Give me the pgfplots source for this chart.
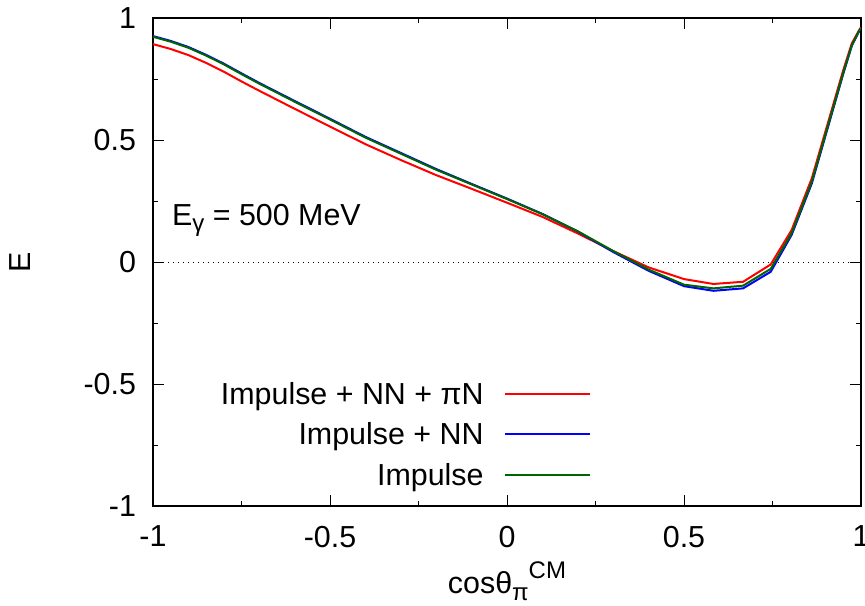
\documentclass[border=0pt]{standalone}
\usepackage{pgfplots}
\pgfplotsset{compat=1.18}
\usepackage{pgfplotstable}
\usepackage{fontspec}
\setmainfont{Liberation Sans}
\definecolor{dkgreen}{RGB}{0,100,0}
\newcommand{\sub}[1]{\raisebox{-3.5pt}{\fontsize{12}{14}\selectfont #1}}
\newcommand{\sups}[1]{\raisebox{7.5pt}{\fontsize{12}{14}\selectfont #1}}

\pgfplotstableread{
x y
-1.00 0.893
-0.95 0.873
-0.90 0.848
-0.85 0.816
-0.80 0.780
-0.75 0.740
-0.70 0.702
-0.60 0.628
-0.50 0.555
-0.40 0.483
-0.30 0.418
-0.20 0.356
-0.10 0.300
0.00 0.243
0.10 0.185
0.20 0.117
0.30 0.045
0.40 -0.022
0.50 -0.070
0.583 -0.090
0.667 -0.081
0.745 -0.010
0.804 0.131
0.861 0.343
0.950 0.787
0.974 0.896
0.995 0.951
1.000 0.962
}\tabred

\pgfplotstableread{
x y
-1.00 0.926
-0.95 0.906
-0.90 0.881
-0.85 0.849
-0.80 0.813
-0.75 0.773
-0.70 0.734
-0.60 0.660
-0.50 0.587
-0.40 0.513
-0.30 0.447
-0.20 0.381
-0.10 0.320
0.00 0.260
0.10 0.197
0.20 0.125
0.30 0.041
0.40 -0.036
0.50 -0.099
0.583 -0.118
0.667 -0.108
0.745 -0.040
0.804 0.111
0.861 0.322
0.950 0.772
0.974 0.886
0.995 0.947
1.000 0.958
}\tabblue

\pgfplotstableread{
x y
-1.00 0.923
-0.95 0.903
-0.90 0.878
-0.85 0.846
-0.80 0.810
-0.75 0.770
-0.70 0.731
-0.60 0.657
-0.50 0.584
-0.40 0.510
-0.30 0.444
-0.20 0.378
-0.10 0.318
0.00 0.258
0.10 0.196
0.20 0.126
0.30 0.045
0.40 -0.031
0.50 -0.093
0.583 -0.108
0.667 -0.097
0.745 -0.028
0.804 0.118
0.861 0.329
0.950 0.776
0.974 0.888
0.995 0.948
1.000 0.958
}\tabgreen

\begin{document}
\begin{tikzpicture}[font=\fontsize{15.2}{18}\selectfont]
\begin{axis}[
  at={(0,0)}, anchor=south west,
  scale only axis, width=354pt, height=244pt,
  xmin=-1, xmax=1, ymin=-1, ymax=1,
  xtick={-1,-0.5,0,0.5,1}, ytick={-1,-0.5,0,0.5,1},
  xticklabels={-1,-0.5,0,0.5,1}, yticklabels={-1,-0.5,0,0.5,1},
  minor tick num=1,
  tick align=inside,
  major tick length=5.5pt, minor tick length=2.7pt,
  every tick/.style={black, line width=0.5pt},
  axis line style={line width=1pt},
  xticklabel style={yshift=-6.5pt},
  yticklabel style={xshift=-5pt},
  xlabel={cosθ\sub{π}\sups{CM}},
  ylabel={E},
  xlabel style={at={(axis description cs:0.5,0)}, anchor=base, yshift=-43.6pt},
  ylabel style={at={(axis description cs:-0.188,0.5)}, anchor=center},
  legend plot pos=right,
  legend cell align=right,
  legend image code/.code={\draw[#1] (0pt,0pt) -- (42.5pt,0pt);},
  legend style={draw=none, fill=none, inner sep=0pt, outer sep=0pt,
    at={(axis cs:0.236,-0.456)}, anchor=north east,
    column sep=10pt,
    nodes={inner sep=0pt, text height=15.57pt, text depth=4.69pt}},
]
\addplot[black, line width=0.5pt, dash pattern=on 0.6pt off 1.9pt, forget plot] coordinates {(-1,0) (1,0)};
\addplot[red, line width=1pt] table[x=x,y=y] {\tabred};
\addlegendentry{Impulse + NN + πN}
\addplot[blue, line width=1pt] table[x=x,y=y] {\tabblue};
\addlegendentry{Impulse + NN}
\addplot[dkgreen, line width=1pt] table[x=x,y=y] {\tabgreen};
\addlegendentry{Impulse}
\node[anchor=base west, inner sep=0pt] at (axis cs:-0.947,0.148) {E\raisebox{-3pt}{\fontsize{12}{14}\selectfont γ} = 500 MeV};
\end{axis}
\pgfresetboundingbox
\useasboundingbox (-76.5pt,-49.5pt) rectangle (356pt,253pt);
\end{tikzpicture}
\end{document}
